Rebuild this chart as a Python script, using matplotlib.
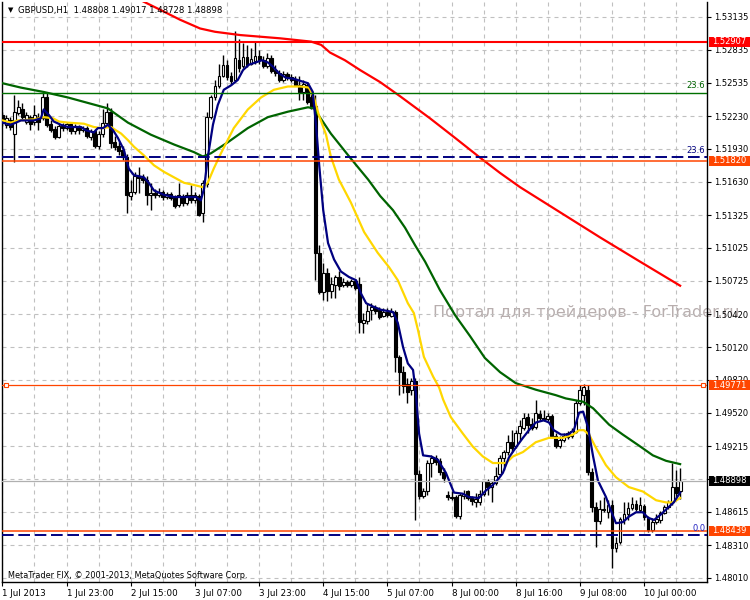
import matplotlib
matplotlib.use('Agg')
import matplotlib.pyplot as plt
from matplotlib.patches import Rectangle
from matplotlib.transforms import blended_transform_factory

plt.rcParams['font.family'] = ['DejaVu Sans']

# ---------------- data (GBPUSD H1) ----------------
opens = [
 1.5224,1.5215,1.5219,1.5207,1.5226,1.5229,1.5218,1.5222,1.5218,1.5222,
 1.5221,1.5240,1.5216,1.5211,1.5204,1.5214,1.5212,1.5216,1.5209,1.5213,
 1.5210,1.5212,1.5204,1.5209,1.5196,1.5207,1.5217,1.5227,1.5199,1.5196,
 1.5192,1.5186,1.5150,1.5154,1.5168,1.5166,1.5165,1.5151,1.5153,1.5151,
 1.5154,1.5149,1.5152,1.5148,1.5142,1.5150,1.5144,1.5151,1.5146,1.5150,
 1.5134,1.5161,1.5222,1.5240,1.5250,1.5260,1.5270,1.5260,1.5256,1.5274,
 1.5269,1.5277,1.5271,1.5273,1.5278,1.5274,1.5269,1.5276,1.5265,1.5262,
 1.5256,1.5261,1.5259,1.5257,1.5251,1.5245,1.5251,1.5240,1.5232,1.5098,
 1.5062,1.5080,1.5063,1.5069,1.5076,1.5069,1.5071,1.5069,1.5072,1.5070,
 1.5034,1.5036,1.5046,1.5048,1.5046,1.5040,1.5044,1.5040,1.5044,1.5003,
 1.4989,1.4978,1.4973,1.4981,1.4896,1.4876,1.4880,1.4906,1.4911,1.4908,
 1.4898,1.4877,1.4875,1.4875,1.4858,1.4876,1.4880,1.4874,1.4870,1.4870,
 1.4878,1.4890,1.4884,1.4888,1.4896,1.4911,1.4916,1.4925,1.4922,1.4933,
 1.4938,1.4948,1.4942,1.4939,1.4951,1.4947,1.4946,1.4949,1.4931,1.4922,
 1.4927,1.4930,1.4931,1.4934,1.4961,1.4968,1.4973,1.4898,1.4866,1.4853,
 1.4864,1.4861,1.4868,1.4828,1.4834,1.4854,1.4859,1.4865,1.4869,1.4863,
 1.4867,1.4856,1.4845,1.4852,1.4854,1.4860,1.4866,1.4870,1.4884,1.48808]
highs = [
 1.5227,1.5224,1.5222,1.5242,1.5238,1.5235,1.5227,1.5224,1.5233,1.5226,
 1.5244,1.5245,1.5219,1.5214,1.5216,1.5217,1.5218,1.5218,1.5216,1.5215,
 1.5214,1.5214,1.5211,1.5211,1.5209,1.5229,1.5235,1.5230,1.5205,1.5199,
 1.5196,1.5188,1.5165,1.5172,1.5176,1.5170,1.5168,1.5162,1.5156,1.5157,
 1.5155,1.5154,1.5154,1.5151,1.5162,1.5152,1.5154,1.5160,1.5154,1.5152,
 1.5165,1.5227,1.5242,1.5256,1.5271,1.5279,1.5274,1.5263,1.5301,1.5293,
 1.5290,1.5288,1.5285,1.5291,1.5283,1.5278,1.5281,1.5279,1.5270,1.5265,
 1.5264,1.5263,1.5261,1.5260,1.5260,1.5256,1.5254,1.5247,1.5242,1.5105,
 1.5089,1.5084,1.5076,1.5078,1.5081,1.5075,1.5073,1.5074,1.5074,1.5076,
 1.5043,1.5052,1.5052,1.5050,1.5049,1.5048,1.5048,1.5048,1.5046,1.5005,
 1.4995,1.4984,1.4984,1.4984,1.4900,1.4883,1.4909,1.4913,1.4913,1.4911,
 1.4901,1.4880,1.4880,1.4877,1.4879,1.4881,1.4881,1.4876,1.4879,1.4881,
 1.4890,1.4891,1.4890,1.4902,1.4913,1.4918,1.4932,1.4936,1.4936,1.4945,
 1.4952,1.4952,1.4947,1.4964,1.4954,1.4954,1.4952,1.4951,1.4933,1.4931,
 1.4933,1.4935,1.4938,1.4964,1.4977,1.4978,1.4977,1.4901,1.4870,1.4872,
 1.4875,1.4872,1.4872,1.4838,1.4857,1.4870,1.4870,1.4875,1.4872,1.4875,
 1.4869,1.4858,1.4856,1.4859,1.4862,1.4868,1.4872,1.4906,1.4900,1.49017]
lows = [
 1.5214,1.5212,1.5210,1.5181,1.5224,1.5219,1.5216,1.5210,1.5215,1.5210,
 1.5219,1.5213,1.5208,1.5202,1.5203,1.5209,1.5210,1.5207,1.5207,1.5207,
 1.5208,1.5203,1.5201,1.5194,1.5193,1.5204,1.5215,1.5194,1.5192,1.5187,
 1.5183,1.5134,1.5146,1.5152,1.5153,1.5162,1.5142,1.5137,1.5148,1.5149,
 1.5146,1.5147,1.5146,1.5139,1.5140,1.5141,1.5142,1.5144,1.5144,1.5132,
 1.5126,1.5158,1.5220,1.5238,1.5249,1.5259,1.5256,1.5251,1.5254,1.5263,
 1.5267,1.5268,1.5270,1.5271,1.5271,1.5267,1.5267,1.5262,1.5260,1.5254,
 1.5254,1.5256,1.5254,1.5250,1.5238,1.5238,1.5234,1.5229,1.5073,1.5060,
 1.5055,1.5054,1.5057,1.5057,1.5064,1.5067,1.5067,1.5067,1.5064,1.5025,
 1.5025,1.5033,1.5037,1.5042,1.5038,1.5039,1.5039,1.5039,1.4989,1.4968,
 1.4970,1.4961,1.4968,1.4854,1.4873,1.4874,1.4877,1.4893,1.4904,1.4895,
 1.4889,1.4872,1.4872,1.4856,1.4855,1.4873,1.4872,1.4868,1.4866,1.4868,
 1.4876,1.4877,1.4870,1.4886,1.4894,1.4900,1.4913,1.4916,1.4920,1.4927,
 1.4936,1.4933,1.4936,1.4937,1.4944,1.4944,1.4944,1.4929,1.4920,1.4920,
 1.4925,1.4928,1.4929,1.4933,1.4959,1.4959,1.4895,1.4861,1.4829,1.4850,
 1.4861,1.4856,1.4810,1.4825,1.4832,1.4850,1.4854,1.4863,1.4862,1.4861,
 1.4854,1.4843,1.4843,1.4850,1.4851,1.4859,1.4864,1.4868,1.4875,1.48728]
closes = [
 1.5218,1.5221,1.5213,1.5227,1.5231,1.5222,1.5224,1.5216,1.5224,1.5218,
 1.5240,1.5215,1.5210,1.5204,1.5214,1.5212,1.5216,1.5209,1.5213,1.5210,
 1.5212,1.5205,1.5209,1.5196,1.5207,1.5217,1.5227,1.5198,1.5195,1.5191,
 1.5186,1.5151,1.5154,1.5168,1.5166,1.5165,1.5151,1.5153,1.5151,1.5154,
 1.5149,1.5152,1.5148,1.5141,1.5151,1.5144,1.5151,1.5146,1.5151,1.5133,
 1.5162,1.5222,1.5240,1.5250,1.5260,1.5270,1.5259,1.5255,1.5276,1.5267,
 1.5277,1.5270,1.5275,1.5278,1.5274,1.5269,1.5276,1.5264,1.5262,1.5256,
 1.5261,1.5259,1.5256,1.5251,1.5245,1.5252,1.5236,1.5230,1.5098,1.5062,
 1.5080,1.5063,1.5070,1.5076,1.5068,1.5071,1.5069,1.5072,1.5066,1.5035,
 1.5037,1.5045,1.5049,1.5045,1.5039,1.5044,1.5041,1.5044,1.5003,1.4989,
 1.4976,1.4971,1.4981,1.4896,1.4876,1.4880,1.4906,1.4911,1.4907,1.4898,
 1.4892,1.4875,1.4874,1.4858,1.4877,1.4878,1.4874,1.4871,1.4873,1.4878,
 1.4890,1.4884,1.4888,1.4894,1.4911,1.4916,1.4925,1.4920,1.4933,1.4940,
 1.4947,1.4941,1.4938,1.4952,1.4947,1.4946,1.4949,1.4931,1.4922,1.4927,
 1.4931,1.4933,1.4935,1.4961,1.4973,1.4975,1.4898,1.4866,1.4853,1.4864,
 1.4863,1.4868,1.4828,1.4833,1.4855,1.4859,1.4865,1.4869,1.4864,1.4868,
 1.4857,1.4845,1.4852,1.4855,1.4860,1.4866,1.4870,1.4884,1.4879,1.48898]

# moving averages (bar index, price)
blue_x = [0,2,3.4,4.6,7.9,9.6,10.3,11.6,12.8,14.6,16.3,19.6,20.8,22.8,23.8,25.1,26.3,27.6,28.8,30.3,
          31.5,32.8,35.3,36.5,37.8,40.3,42.8,48.3,49.5,50.3,51.2,52.5,53.7,55.2,57,58.7,60,61.5,63.2,64.7,
          66.2,67.5,69,70.7,72.7,74.4,76.2,77.4,78.2,79,80,81.2,82.7,84.4,86.4,88.2,89.4,90.7,92.4,94.4,
          97.4,98.6,99.9,101.1,102.4,103.1,103.9,104.9,106.9,108.6,109.4,110.6,112.6,114.8,116.3,118.8,120.6,122.3,123.8,124.8,
          126.3,128,129.8,131.3,133,135,136.3,137.5,139.3,141,142.5,143.8,144.8,146,147.3,148.5,150.5,151.7,153,154.7,
          156.2,158,159.7,161,162.5,164.2,165.9,167.4,169]
blue_y = [1.5217,1.5215,1.5217,1.5219,1.5219,1.5221,1.5229,1.5224,1.5218,1.5215,1.5213,1.5213,1.5210,1.5208,1.5212,1.5212,1.5215,1.5210,1.5203,1.5192,
          1.5175,1.5169,1.5167,1.5162,1.5155,1.5151,1.5149,1.5149,1.5146,1.5157,1.5185,1.5215,1.5233,1.5247,1.5251,1.5256,1.5265,1.5270,1.5272,1.5274,
          1.5272,1.5268,1.5262,1.5258,1.5257,1.5255,1.5253,1.5245,1.5215,1.5178,1.5137,1.5107,1.5092,1.5081,1.5076,1.5073,1.5061,1.5052,1.5049,1.5046,
          1.5044,1.5034,1.5012,1.4997,1.4991,1.4970,1.4933,1.4913,1.4912,1.4909,1.4904,1.4897,1.4879,1.4878,1.4875,1.4874,1.4881,1.4886,1.4892,1.4897,
          1.4911,1.4920,1.4929,1.4936,1.4943,1.4945,1.4943,1.4936,1.4932,1.4932,1.4936,1.4952,1.4953,1.4939,1.4912,1.4890,1.4875,1.4863,1.4851,1.4852,
          1.4857,1.4861,1.4861,1.4856,1.4854,1.4859,1.4865,1.4870,1.4879]

yellow_x = [0,2.1,3.9,7.9,10.3,12.6,14.1,16.3,20.3,22.8,24.6,27.1,28.3,29.6,31.3,32.8,35.3,37.8,40.3,42.8,
            45.3,47.8,50,51.2,52.7,54.5,57.7,61.2,64.5,67.7,71.2,74.4,76.4,77.7,78.9,80.7,81.9,83.9,86.9,90.2,
            93.6,96.4,98.6,101.1,102.6,103.6,105.1,107.4,108.9,109.9,111.8,114.8,117.3,119.8,122.3,124.3,125.6,127.3,129.8,133,
            136.3,139.8,142.3,143.8,145,146.3,148,150.5,153,156.2,159.7,163,165.5,167.2,169]
yellow_y = [1.5219,1.5217,1.5219,1.5220,1.5222,1.5221,1.5218,1.5217,1.5216,1.5213,1.5212,1.5213,1.5210,1.5207,1.5201,1.5195,1.5187,1.5178,1.5172,1.5167,
            1.5162,1.5160,1.5158,1.5162,1.5175,1.5189,1.5212,1.5229,1.5240,1.5247,1.5250,1.5250,1.5249,1.5240,1.5224,1.5206,1.5186,1.5165,1.5144,1.5117,
            1.5098,1.5085,1.5073,1.5052,1.5043,1.5028,1.5003,1.4985,1.4975,1.4964,1.4948,1.4933,1.4921,1.4912,1.4906,1.4906,1.4906,1.4912,1.4916,1.4925,
            1.4929,1.4929,1.4932,1.4936,1.4936,1.4932,1.4920,1.4904,1.4893,1.4884,1.4880,1.4872,1.4870,1.4870,1.4874]

green_x = [0,4.6,10.3,16.3,21.3,26.3,31.3,37,42.8,47.8,50,52,56.2,61.2,66.2,71.2,76.2,77.7,81.9,86.7,
           91.2,94.2,97.4,100.4,102.9,105.4,109.1,112.9,116.6,120.3,124.1,128,133,138,140.5,144.8,147.3,151.3,154.7,158.7,
           162.2,165.5,169]
green_y = [1.5253,1.5249,1.5245,1.5240,1.5235,1.5230,1.5217,1.5206,1.5197,1.5190,1.5186,1.5189,1.5199,1.5212,1.5222,1.5227,1.5231,1.5230,1.5207,1.5185,
           1.5165,1.5150,1.5137,1.5121,1.5105,1.5090,1.5064,1.5041,1.5022,1.5002,1.4989,1.4979,1.4973,1.4968,1.4965,1.4962,1.4956,1.4941,1.4932,1.4922,
           1.4913,1.4908,1.4905]

red_x = [34.4,39.4,44.3,49.3,53,59.3,69.3,77,79.5,81.7,85.4,89.2,94.2,99.2,106.6,112.9,119.1,124.1,129.1,139.1,
         149.1,159,169]
red_y = [1.5329,1.5320,1.5311,1.5303,1.5300,1.5297,1.5294,1.5291,1.5288,1.5281,1.5274,1.5265,1.5254,1.5241,1.5221,1.5203,1.5185,1.5171,1.5158,1.5135,
         1.5112,1.5090,1.5068]

price_ticks = [1.53135,1.52835,1.52535,1.52230,1.51930,1.51630,1.51325,1.51025,1.50725,
               1.50420,1.50120,1.49820,1.49520,1.49215,1.48915,1.48615,1.48310,1.48010]
price_tick_labels = ['1.53135','1.52835','1.52535','1.52230','1.51930','1.51630','1.51325','1.51025','1.50725',
                     '1.50420','1.50120','1.49820','1.49520','1.49215','','1.48615','1.48310','1.48010']
time_ticks = [0,16,32,48,64,80,96,112,128,144,160]
time_labels = ["1 Jul 2013","1 Jul 23:00","2 Jul 15:00","3 Jul 07:00","3 Jul 23:00","4 Jul 15:00",
               "5 Jul 07:00","8 Jul 00:00","8 Jul 16:00","9 Jul 08:00","10 Jul 00:00"]

level_red = 1.52907
level_or1 = 1.51820
level_mark = 1.49771
level_bid = 1.48898
level_or2 = 1.48439
fib_green_236 = 1.52445
fib_navy_236 = 1.51853
fib_navy_0 = 1.48403

# ---------------- figure ----------------
fig = plt.figure(figsize=(7.5, 6), dpi=100)
fig.patch.set_facecolor('white')
ax = fig.add_axes([2/750, 18/600, 705/750, 580/600])
ax.patch.set_visible(False)
ax.set_xlim(-0.1, 175.7)
ax.set_ylim(1.47973, 1.53272)

grid_kw = dict(color='#C0C0C0', lw=0.8, ls=(0, (3.6, 3.6)), zorder=0.5)
for p in price_ticks:
    ax.axhline(p, **grid_kw)
for k in range(0, 176, 8):
    ax.axvline(k, **grid_kw)

# candles
for i in range(len(opens)):
    o, h, l, c = opens[i], highs[i], lows[i], closes[i]
    ax.vlines(i, l, h, color='black', lw=1.0, zorder=3)
    bottom = min(o, c)
    height = max(abs(c - o), 0.00003)
    face = 'white' if c >= o else 'black'
    ax.bar(i, height, bottom=bottom, width=0.72, color=face, edgecolor='black',
           linewidth=0.8, zorder=3.5)

# moving averages
ax.plot(red_x, red_y, color='#FF0000', lw=1.6, zorder=4)
ax.plot(green_x, green_y, color='#006400', lw=1.6, zorder=4.1)
ax.plot(yellow_x, yellow_y, color='#FFD700', lw=1.6, zorder=4.2)
ax.plot(blue_x, blue_y, color='#000080', lw=1.6, zorder=4.3)

# horizontal objects
ax.axhline(level_red, color='#FF0000', lw=1.5, zorder=5)
ax.axhline(fib_green_236, color='#007000', lw=1.0, zorder=5)
ax.axhline(fib_navy_236, color='#000080', lw=1.4, ls=(0, (6, 2.4)), zorder=5)
ax.axhline(level_or1, color='#FF4500', lw=1.1, zorder=5)
ax.axhline(level_mark, color='#FF4500', lw=0.9, zorder=5)
ax.plot([0.8, 174.8], [level_mark, level_mark], 's', mfc='white', mec='#FF4500',
        ms=3.5, mew=0.8, zorder=5.5, clip_on=False)
ax.axhline(level_bid, color='#B0B0B0', lw=0.9, zorder=5)
ax.axhline(fib_navy_0, color='#000080', lw=1.4, ls=(0, (6, 2.4)), zorder=5)
ax.axhline(level_or2, color='#FF4500', lw=1.1, zorder=5.1)

ax.text(175.3, fib_green_236 + 0.00025, '23.6', color='#006400', fontsize=6,
        ha='right', va='bottom', zorder=6)
ax.text(175.3, fib_navy_236 + 0.00025, '23.6', color='#000080', fontsize=6,
        ha='right', va='bottom', zorder=6)
ax.text(175.3, fib_navy_0 + 0.0002, '0.0', color='#2020C0', fontsize=6,
        ha='right', va='bottom', zorder=6)

# axes styling
ax.spines['top'].set_visible(False)
for s in ['left', 'right', 'bottom']:
    ax.spines[s].set_color('black')
    ax.spines[s].set_linewidth(1.0)
ax.yaxis.tick_right()
ax.set_yticks(price_ticks)
ax.set_yticklabels(price_tick_labels)
ax.set_xticks(time_ticks)
ax.set_xticklabels(time_labels)
for lab in ax.get_xticklabels():
    lab.set_ha('left')
ax.tick_params(axis='y', direction='out', length=3, width=0.8, labelsize=6, pad=2)
ax.tick_params(axis='x', direction='out', length=3, width=0.8, labelsize=6.3, pad=2)

# price boxes on the right axis
trans = blended_transform_factory(fig.transFigure, ax.transData)
box_h = 10.5 / 10945
def price_box(p, bg):
    ax.add_patch(Rectangle((709/750, p - box_h/2), 41/750, box_h, transform=trans,
                           facecolor=bg, edgecolor='none', clip_on=False, zorder=10))
    ax.text(712/750, p, '%.5f' % p, transform=trans, color='white', fontsize=6,
            va='center', ha='left', clip_on=False, zorder=11)

price_box(level_red, '#FF0000')
price_box(level_or1, '#FF4500')
price_box(level_mark, '#FF4500')
price_box(level_bid, '#000000')
price_box(level_or2, '#FF4500')

# texts
fig.text(8/750, 1 - 10.5/600, '\u25BC', fontsize=5, va='center', ha='left', color='black')
fig.text(18/750, 1 - 10/600, 'GBPUSD,H1  1.48808 1.49017 1.48728 1.48898', fontsize=6.1,
         va='center', ha='left', color='black')
fig.text(8/750, 1 - 575/600, 'MetaTrader FIX, \u00A9 2001-2013, MetaQuotes Software Corp.',
         fontsize=5.9, va='center', ha='left', color='black')
fig.text(433/750, 1 - 312/600, 'Портал для трейдеров - ForTrader.ru', fontsize=11.5,
         va='center', ha='left', color='#B8AEAE', zorder=-1)

fig.savefig('out.png', dpi=100, facecolor='white')
